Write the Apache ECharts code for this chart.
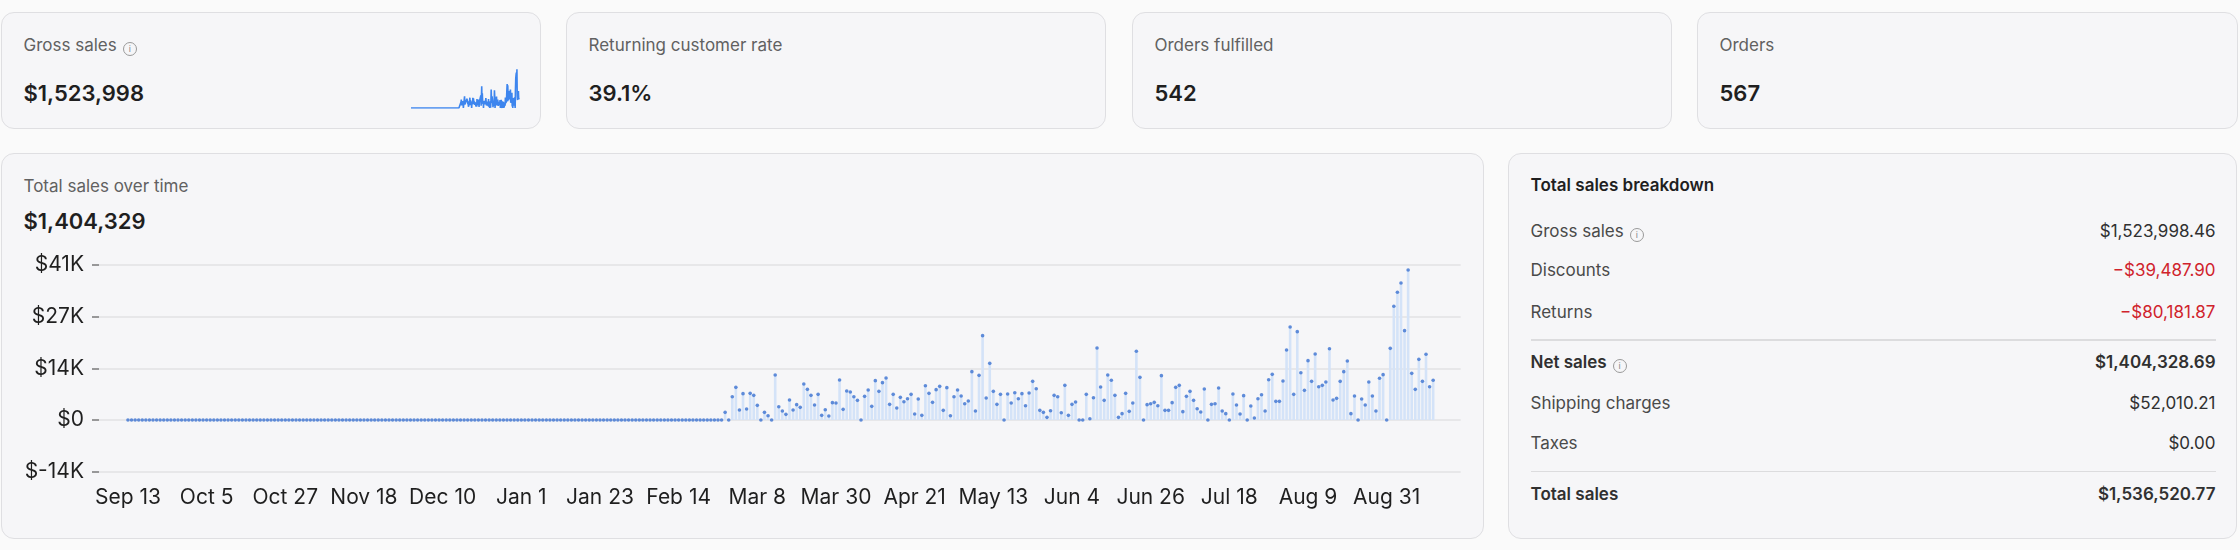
<!DOCTYPE html>
<html lang="en">
<head>
<meta charset="UTF-8">
<title>Sales overview</title>
<script src="https://cdn.jsdelivr.net/npm/echarts@6/dist/echarts.min.js"></script>
<style>
  body { margin:0; width:2240px; height:550px; background:#fafafa; position:relative; overflow:hidden;
         font-family: Inter, "Noto Sans", sans-serif; }
  .card { position:absolute; box-sizing:border-box; background:#f6f6f8; border:1.5px solid #dfdfe2; border-radius:13px; }
  .title { position:absolute; left:21.5px; font-size:17px; line-height:24px; color:#616161; white-space:nowrap; }
  .big { position:absolute; left:21.5px; font-size:22px; line-height:28px; font-weight:600; color:#1f1f1f; }
  .info { display:inline-block; box-sizing:border-box; width:14px; height:14px; margin-left:6px; border:1.3px solid #9a9a9a;
          border-radius:50%; font-size:9px; line-height:11px; text-align:center; color:#8a8a8a; vertical-align:-1px; font-weight:400; }
  .row { position:absolute; left:21.5px; right:20.5px; display:flex; justify-content:space-between;
         font-size:17px; line-height:24px; color:#4a4a4a; }
  .row .v { color:#303030; }
  .row.strong, .row.strong .v { font-weight:600; color:#303030; }
  .row .neg { color:#d0232c; }
  .rule { position:absolute; left:21.5px; right:20.5px; height:1.5px; background:#dcdcde; }
</style>
</head>
<body>

<div class="card" style="left:1px;top:11.5px;width:540px;height:117.5px">
  <div class="title" style="top:20px">Gross sales<span class="info">i</span></div>
  <div class="big" style="top:66px">$1,523,998</div>
</div>
<div id="spark" style="position:absolute;left:405px;top:64px;width:120px;height:50px"></div>

<div class="card" style="left:566px;top:11.5px;width:540px;height:117.5px">
  <div class="title" style="top:20px">Returning customer rate</div>
  <div class="big" style="top:66px">39.1%</div>
</div>
<div class="card" style="left:1132px;top:11.5px;width:540px;height:117.5px">
  <div class="title" style="top:20px">Orders fulfilled</div>
  <div class="big" style="top:66px">542</div>
</div>
<div class="card" style="left:1697px;top:11.5px;width:541px;height:117.5px">
  <div class="title" style="top:20px">Orders</div>
  <div class="big" style="top:66px">567</div>
</div>

<div class="card" style="left:1px;top:153px;width:1483px;height:386px">
  <div class="title" style="top:19.5px">Total sales over time</div>
  <div class="big" style="top:52.5px">$1,404,329</div>
</div>
<div id="main" style="position:absolute;left:0;top:153px;width:1484px;height:386px"></div>

<div class="card" style="left:1508px;top:153px;width:729px;height:386px">
  <div class="title" style="top:19.2px;color:#1f1f1f;font-weight:600">Total sales breakdown</div>
  <div class="row" style="top:64.5px"><span>Gross sales<span class="info">i</span></span><span class="v">$1,523,998.46</span></div>
  <div class="row" style="top:104.2px"><span>Discounts</span><span class="neg">−$39,487.90</span></div>
  <div class="row" style="top:145.8px"><span>Returns</span><span class="neg">−$80,181.87</span></div>
  <div class="rule" style="top:185px"></div>
  <div class="row strong" style="top:195.8px"><span>Net sales<span class="info">i</span></span><span class="v">$1,404,328.69</span></div>
  <div class="row" style="top:236.8px"><span>Shipping charges</span><span class="v">$52,010.21</span></div>
  <div class="row" style="top:276.8px"><span>Taxes</span><span class="v">$0.00</span></div>
  <div class="rule" style="top:316.5px"></div>
  <div class="row strong" style="top:327.8px"><span>Total sales</span><span class="v">$1,536,520.77</span></div>
</div>

<script>
// daily total sales, Sep 13 .. Sep 13 (366 days)
var salesValues = [
  0,0,0,0,0,0,0,0,0,0,0,0,0,0,0,0,0,0,0,0,
  0,0,0,0,0,0,0,0,0,0,0,0,0,0,0,0,0,0,0,0,
  0,0,0,0,0,0,0,0,0,0,0,0,0,0,0,0,0,0,0,0,
  0,0,0,0,0,0,0,0,0,0,0,0,0,0,0,0,0,0,0,0,
  0,0,0,0,0,0,0,0,0,0,0,0,0,0,0,0,0,0,0,0,
  0,0,0,0,0,0,0,0,0,0,0,0,0,0,0,0,0,0,0,0,
  0,0,0,0,0,0,0,0,0,0,0,0,0,0,0,0,0,0,0,0,
  0,0,0,0,0,0,0,0,0,0,0,0,0,0,0,0,0,0,0,0,
  0,0,0,0,0,0,0,
  2030, 0, 6170, 8640, 2650, 6970, 2910, 7060, 6530, 3880,
  0, 2030, 1150, 0, 11910, 3530, 2380, 1500, 5290, 2650,
  4060, 3350, 9530, 8110, 6530, 3970, 6790, 1230, 2730, 1060,
  4590, 4500, 10580, 2820, 7670, 7410, 6170, 5200, 0, 6260,
  7940, 3620, 10410, 7590, 9880, 11110, 4150, 6790, 3180, 6000,
  4850, 5640, 6790, 1590, 5560, 1230, 9080, 7060, 4670, 8030,
  8910, 2560, 8560, 1150, 6170, 7940, 6350, 4320, 5030, 12790,
  2380, 11820, 22310, 5820, 14990, 7590, 4150, 6790, 0, 6880,
  4500, 7230, 5640, 6970, 3790, 7140, 10230, 8290, 2560, 2030,
  710, 2470, 6530, 6170, 1940, 9170, 1230, 4150, 4760, 0,
  0, 6790, 350, 5910, 19050, 8730, 5200, 11910, 10500, 6530,
  710, 1680, 7060, 2290, 4500, 18170, 11290, 0, 4060, 4320,
  4670, 3790, 11730, 2560, 2560, 4590, 8640, 9170, 2210, 6260,
  7590, 5200, 3000, 2120, 8200, 0, 4150, 4320, 8470, 2380,
  1680, 0, 6880, 3970, 1590, 6440, 0, 3700, 530, 5640,
  6700, 2380, 10670, 12080, 4940, 4940, 10320, 18520, 24610, 6790,
  23370, 12520, 7850, 15700, 10230, 17460, 8820, 9170, 10050, 18870,
  5290, 5730, 10230, 12790, 15610, 1680, 6350, 0, 5560, 3970,
  10050, 6350, 2380, 11030, 12000, 0, 18960, 30080, 33780, 36250,
  23640, 39690, 12350, 8110, 16050, 10230, 17380, 8820, 10500
];
var tickDays = [0, 22, 44, 66, 88, 110, 132, 154, 176, 198, 220, 242, 264, 286, 308, 330, 352];
var tickLabels = ['Sep 13', 'Oct 5', 'Oct 27', 'Nov 18', 'Dec 10', 'Jan 1', 'Jan 23', 'Feb 14', 'Mar 8',
                  'Mar 30', 'Apr 21', 'May 13', 'Jun 4', 'Jun 26', 'Jul 18', 'Aug 9', 'Aug 31'];
var yMax = 41000;
var yStep = yMax / 3;

var points = salesValues.map(function (v, i) { return [i, v]; });

var main = echarts.init(document.getElementById('main'));
main.setOption({
    animation: false,
    grid: { left: 99, right: 23.3, top: 112, bottom: 67.3 },
    xAxis: {
        type: 'value',
        min: -8.1,
        max: 372.7,
        axisLine: { show: false, onZero: false },
        axisTick: { show: false },
        splitLine: { show: false },
        axisLabel: {
            customValues: tickDays,
            margin: 15,
            fontSize: 21,
            fontFamily: 'Inter',
            color: '#1f1f1f',
            formatter: function (v) {
                var k = tickDays.indexOf(Math.round(v));
                return k >= 0 ? tickLabels[k] : '';
            }
        }
    },
    yAxis: {
        type: 'value',
        min: -yStep,
        max: yMax,
        interval: yStep,
        axisLine: { show: false, onZero: false },
        axisTick: { show: true, length: 7, lineStyle: { color: '#7a7a7a', width: 1.5 } },
        splitLine: { lineStyle: { color: '#e2e2e4', width: 1.5 } },
        axisLabel: {
            margin: 15,
            fontSize: 21,
            fontFamily: 'Inter',
            color: '#1f1f1f',
            formatter: function (v) {
                var k = Math.round(v / 1000);
                return k === 0 ? '$0' : '$' + k + 'K';
            }
        }
    },
    series: [
        {
            type: 'bar',
            barWidth: 2.6,
            itemStyle: { color: '#d4e3f8' },
            data: points
        },
        {
            type: 'scatter',
            symbolSize: 3.6,
            itemStyle: { color: '#3b72d1' },
            data: points
        }
    ]
});

var spark = echarts.init(document.getElementById('spark'));
spark.setOption({
    animation: false,
    grid: { left: 6, right: 6, top: 5, bottom: 6 },
    xAxis: { type: 'value', min: 0, max: salesValues.length - 1, show: false },
    yAxis: { type: 'value', min: 0, max: 40000, show: false },
    series: [{
        type: 'line',
        showSymbol: false,
        lineStyle: { color: '#3d85ee', width: 1.6 },
        data: points
    }]
});
</script>
</body>
</html>
